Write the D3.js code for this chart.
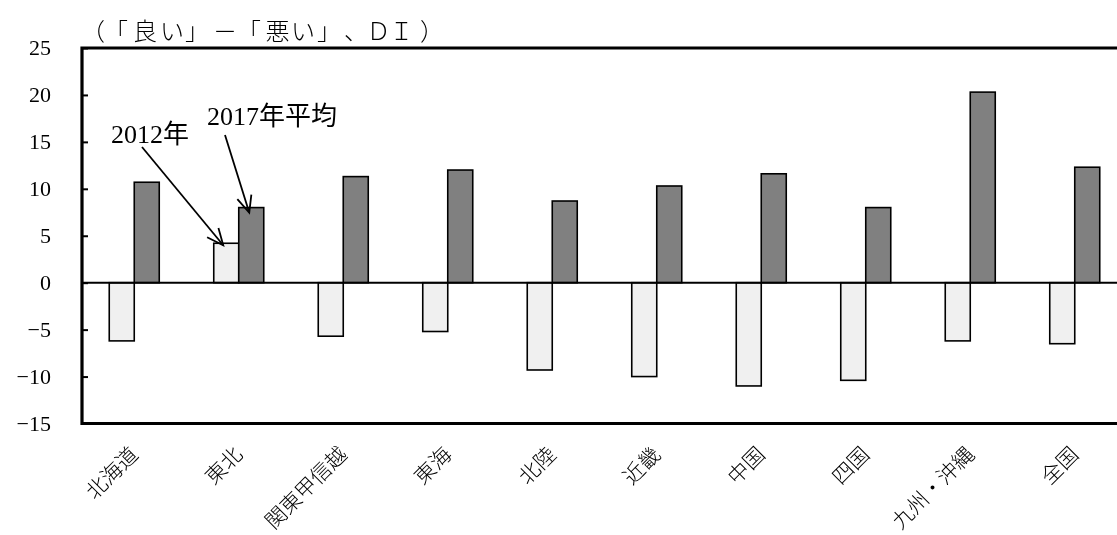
<!DOCTYPE html>
<html>
<head>
<meta charset="utf-8">
<script src="https://cdn.jsdelivr.net/npm/d3@7"></script>
<style>
  html, body { margin: 0; padding: 0; background: #fff; }
  svg { display: block; will-change: transform; }
  text { font-family: "Liberation Serif", "DejaVu Serif", "Noto Sans CJK JP", serif; fill: #000; }
  .cjk { font-family: "Noto Sans CJK JP", sans-serif; }
</style>
</head>
<body>
<svg id="chart" width="1117" height="535"></svg>
<script>
// Regions and DI values (「良い」－「悪い」)
const regions = ["北海道", "東北", "関東甲信越", "東海", "北陸", "近畿", "中国", "四国", "九州・沖縄", "全国"];
const series = ["2012年", "2017年平均"];
const di2012 = [-6.2, 4.2, -5.7, -5.2, -9.3, -10.0, -11.0, -10.4, -6.2, -6.5];
const di2017 = [10.7, 8.0, 11.3, 12.0, 8.7, 10.3, 11.6, 8.0, 20.3, 12.3];
const yTicks = [25, 20, 15, 10, 5, 0, -5, -10, -15];
const unitLabel = "（「良い」－「悪い」、ＤＩ）";

const svg = d3.select("#chart");
const plotLeft = 82, plotTop = 48, plotBottom = 423.5;
const plotW = 1045;

const x = d3.scaleBand().domain(regions).range([plotLeft, plotLeft + plotW]).padding(0);
const xs = d3.scaleBand().domain(series).range([0, 50]);
const y = d3.scaleLinear().domain([-15, 25]).range([plotBottom, plotTop]);

const rows = regions.map((r, i) => ({ region: r, values: [di2012[i], di2017[i]] }));
const fills = ["#f0f0f0", "#808080"];
const groupLeft = r => x(r) + x.bandwidth() / 2 - 25;

// bars
const g = svg.append("g");
rows.forEach(row => {
  row.values.forEach((v, j) => {
    g.append("rect")
      .attr("x", groupLeft(row.region) + xs(series[j]))
      .attr("width", xs.bandwidth())
      .attr("y", y(Math.max(0, v)))
      .attr("height", Math.abs(y(v) - y(0)))
      .attr("fill", fills[j])
      .attr("stroke", "#000")
      .attr("stroke-width", 1.6);
  });
});

// zero line
svg.append("line")
  .attr("x1", plotLeft).attr("x2", 1117)
  .attr("y1", y(0)).attr("y2", y(0))
  .attr("stroke", "#000").attr("stroke-width", 2);

// frame (right side runs past the edge)
svg.append("path")
  .attr("d", `M1130,${plotTop}H${plotLeft}V${plotBottom}H1130`)
  .attr("fill", "none").attr("stroke", "#000").attr("stroke-width", 3.2);

// y axis: inward ticks, labels on the left
const yAxis = d3.axisRight(y).tickValues(yTicks).tickSize(6).tickFormat("");
const ya = svg.append("g").attr("transform", `translate(${plotLeft},0)`).call(yAxis);
ya.select(".domain").remove();
ya.selectAll(".tick text").remove();
ya.selectAll(".tick line").attr("stroke", "#000").attr("stroke-width", 2);

svg.append("g").selectAll("text").data(yTicks).join("text")
  .attr("x", 51).attr("y", d => y(d))
  .attr("dy", "0.34em")
  .attr("text-anchor", "end")
  .attr("font-size", 22)
  .text(d => d < 0 ? "\u2212" + Math.abs(d) : String(d));

// category labels, rotated
svg.append("g").selectAll("text").data(regions).join("text")
  .attr("class", "cjk")
  .attr("transform", d => `translate(${x(d) + x.bandwidth() / 2 + 5},456) rotate(-45)`)
  .attr("text-anchor", "end")
  .attr("font-size", 21)
  .attr("font-weight", 300)
  .text(d => d);

// unit label: one text, each glyph placed in its own cell
const unitCells = [81, 104, 133, 160, 185, 213, 237, 265.5, 291, 317, 344, 366.5, 389.5, 420];
const unitChars = Array.from(unitLabel);
svg.append("text")
  .attr("class", "cjk")
  .attr("y", 40)
  .attr("font-size", 24)
  .attr("font-weight", 300)
  .selectAll("tspan").data(unitChars).join("tspan")
  .attr("x", (c, i) => unitCells[i])
  .text(c => c);

// annotations with arrows pointing at the 東北 bars
const tohoku = groupLeft("東北");
const ann = [
  { text: series[0], tx: 111, ty: 143, x1: 142, y1: 147,
    x2: tohoku + xs(series[0]) + xs.bandwidth() / 2 - 3, y2: y(di2012[1]) + 2 },
  { text: series[1], tx: 207, ty: 125, x1: 225, y1: 135,
    x2: tohoku + xs(series[1]) + xs.bandwidth() / 2 - 2, y2: y(di2017[1]) + 5 }
];
ann.forEach(a => {
  svg.append("text").attr("x", a.tx).attr("y", a.ty).attr("font-size", 26)
    .text(a.text);
  svg.append("line").attr("x1", a.x1).attr("y1", a.y1).attr("x2", a.x2).attr("y2", a.y2)
    .attr("stroke", "#000").attr("stroke-width", 1.8);
  const ang = Math.atan2(a.y2 - a.y1, a.x2 - a.x1);
  const L = 18, spread = 0.42;
  const p1 = [a.x2 - L * Math.cos(ang - spread), a.y2 - L * Math.sin(ang - spread)];
  const p2 = [a.x2 - L * Math.cos(ang + spread), a.y2 - L * Math.sin(ang + spread)];
  svg.append("path")
    .attr("d", `M${p1[0]},${p1[1]}L${a.x2},${a.y2}L${p2[0]},${p2[1]}`)
    .attr("fill", "none").attr("stroke", "#000").attr("stroke-width", 1.8);
});
</script>
</body>
</html>
